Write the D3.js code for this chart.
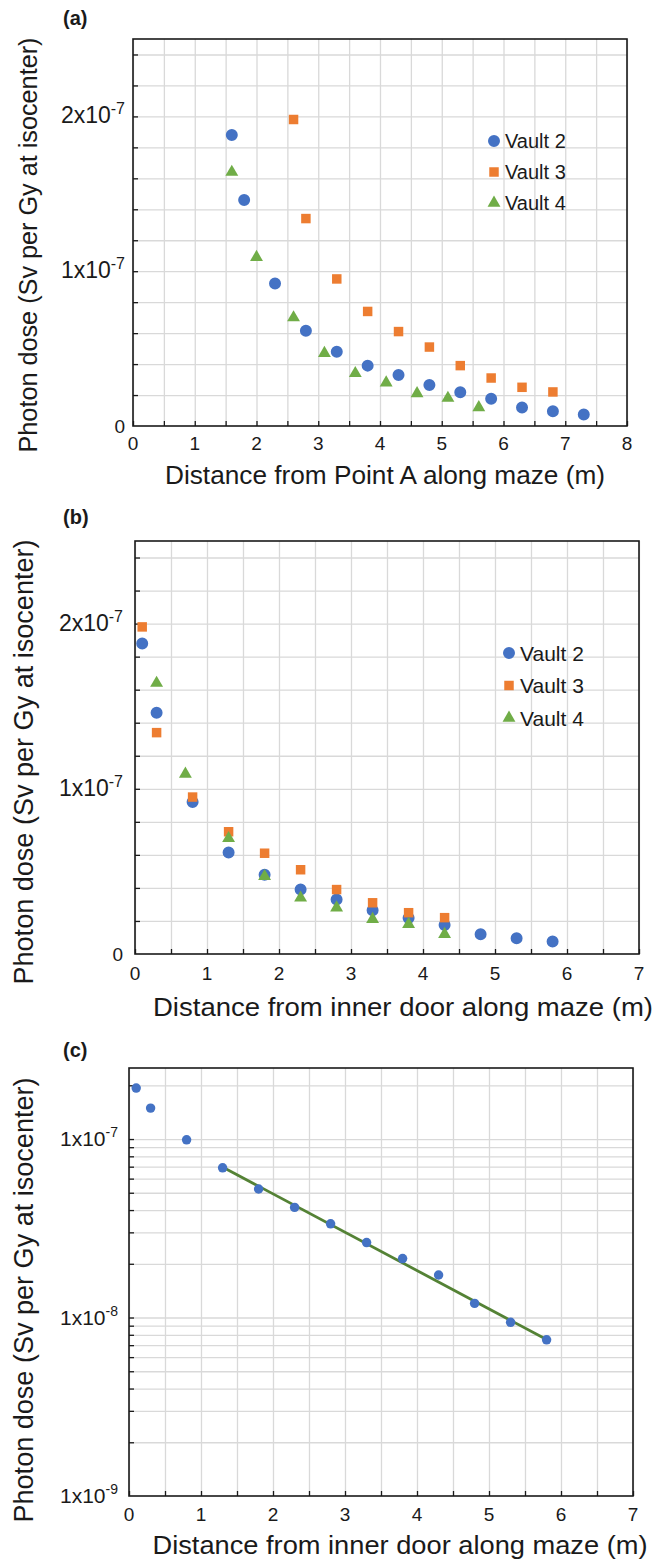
<!DOCTYPE html>
<html>
<head>
<meta charset="utf-8">
<script src="https://cdn.jsdelivr.net/npm/d3@7"></script>
<style>
  body { margin: 0; background: #fff; }
  text { font-family: "Liberation Sans", Arial, sans-serif; fill: #1a1a1a; }
</style>
</head>
<body>
<script>
// distances (m) and photon dose (x1e-7 Sv per Gy at isocenter)
var vault2DistA    = [1.6, 1.8, 2.3, 2.8, 3.3, 3.8, 4.3, 4.8, 5.3, 5.8, 6.3, 6.8, 7.3];
var vault2DistDoor = [0.1, 0.3, 0.8, 1.3, 1.8, 2.3, 2.8, 3.3, 3.8, 4.3, 4.8, 5.3, 5.8];
var vault2Dose     = [1.88, 1.46, 0.92, 0.615, 0.48, 0.39, 0.33, 0.265, 0.218, 0.176, 0.12, 0.095, 0.075];
// vault 2 as plotted on the log panel (c)
var vault2DoseLog  = [1.93, 1.49, 0.99, 0.69, 0.525, 0.414, 0.335, 0.263, 0.214, 0.173, 0.12, 0.094, 0.075];

var vault3DistA    = [2.6, 2.8, 3.3, 3.8, 4.3, 4.8, 5.3, 5.8, 6.3, 6.8];
var vault3DistDoor = [0.1, 0.3, 0.8, 1.3, 1.8, 2.3, 2.8, 3.3, 3.8, 4.3];
var vault3Dose     = [1.98, 1.34, 0.95, 0.74, 0.61, 0.51, 0.39, 0.31, 0.25, 0.22];

var vault4DistA    = [1.6, 2.0, 2.6, 3.1, 3.6, 4.1, 4.6, 5.1, 5.6];
var vault4DistDoor = [0.3, 0.7, 1.3, 1.8, 2.3, 2.8, 3.3, 3.8, 4.3];
var vault4Dose     = [1.64, 1.09, 0.70, 0.47, 0.34, 0.28, 0.21, 0.18, 0.12];

// exponential fit drawn in panel (c): end points
var fitDist = [1.35, 5.78];
var fitDose = [0.68, 0.076];

var seriesNames = ["Vault 2", "Vault 3", "Vault 4"];
var linTicks = [0, 1e-7, 2e-7];
var logTicks = [1e-9, 1e-8, 1e-7];

var W = 660, H = 1564;
var colors = { "Vault 2": "#4472C4", "Vault 3": "#ED7D31", "Vault 4": "#70AD47" };
var shapes = { "Vault 2": d3.symbolCircle, "Vault 3": d3.symbolSquare, "Vault 4": d3.symbolTriangle };
var symSize = { "Vault 2": 113, "Vault 3": 90, "Vault 4": 72 };

function pairs (xs, ys) {
    return xs.map(function (d, i) { return { x: d, y: ys[i] * 1e-7 }; });
}

var panels = [
    { label: "(a)", labelY: 18, left: 133, right: 627, top: 39, bottom: 426, xMax: 8, log: false,
      yTickEnd: 125, yTickSize: 23, xLabelY: 443, mark: 1,
      xTitle: "Distance from Point A along maze (m)", xTitleX: 385, xTitleY: 475, xTitleLen: 440, xTitleSize: 25,
      yTitleX: 37, yTitleY: 245, yTitleLen: 415, yTitleSize: 26,
      legend: { x: 494, y: 141, dy: 31, size: 20 },
      series: [pairs(vault2DistA, vault2Dose), pairs(vault3DistA, vault3Dose), pairs(vault4DistA, vault4Dose)] },
    { label: "(b)", labelY: 517, left: 135, right: 639, top: 541, bottom: 954, xMax: 7, log: false,
      yTickEnd: 123, yTickSize: 23, xLabelY: 973, mark: 1,
      xTitle: "Distance from inner door along maze (m)", xTitleX: 403, xTitleY: 1007, xTitleLen: 500, xTitleSize: 26,
      yTitleX: 33, yTitleY: 762, yTitleLen: 445, yTitleSize: 27,
      legend: { x: 509, y: 653, dy: 32.5, size: 21 },
      series: [pairs(vault2DistDoor, vault2Dose), pairs(vault3DistDoor, vault3Dose), pairs(vault4DistDoor, vault4Dose)] },
    { label: "(c)", labelY: 1050, left: 129, right: 633, top: 1068, bottom: 1496, xMax: 7, log: true,
      yTickEnd: 118, yTickSize: 21, xLabelY: 1514, mark: 0.62,
      xTitle: "Distance from inner door along maze (m)", xTitleX: 400, xTitleY: 1545, xTitleLen: 495, xTitleSize: 26,
      yTitleX: 33, yTitleY: 1300, yTitleLen: 445, yTitleSize: 27,
      legend: null,
      series: [pairs(vault2DistDoor, vault2DoseLog)],
      fit: pairs(fitDist, fitDose) }
];

var svg = d3.select("body").append("svg")
    .attr("width", W).attr("height", H);
svg.append("rect").attr("width", W).attr("height", H).attr("fill", "#fff");

function tickLabel (sel, v, supSize) {
    if (v === 0) { sel.attr("font-size", 19).text("0"); return; }
    var e = Math.floor(Math.log10(v) + 1e-9),
        m = Math.round(v / Math.pow(10, e));
    sel.append("tspan").text(m + "x10");
    sel.append("tspan").attr("font-size", supSize).attr("dy", -9).text("-" + (-e));
}

function styleLines (color) {
    return function (a) {
        a.select(".domain").remove();
        a.selectAll("line").attr("stroke", color).attr("stroke-width", 1.3);
    };
}

function drawPanel (p) {
    var g = svg.append("g"),
        h = p.bottom - p.top,
        x = d3.scaleLinear().domain([0, p.xMax]).range([p.left, p.right]),
        y = p.log ? d3.scaleLog().domain([1e-9, 2.5e-7]).range([p.bottom, p.top])
                  : d3.scaleLinear().domain([0, 2.5e-7]).range([p.bottom, p.top]),
        halfSteps = d3.range(0, p.xMax * 2 + 1).map(function (i) { return i / 2; }),
        yGrid = (p.log ? y.ticks() : d3.range(0, 13).map(function (i) { return i * 0.2e-7; }))
            .filter(function (v) { return y(v) > p.top + 1 && y(v) < p.bottom - 1; });

    // grid
    g.append("g")
        .attr("transform", "translate(0," + p.bottom + ")")
        .call(d3.axisBottom(x).tickValues(halfSteps).tickSize(-h).tickFormat(""))
        .call(styleLines("#d9d9d9"));
    g.append("g")
        .attr("transform", "translate(" + p.left + ",0)")
        .call(d3.axisLeft(y).tickValues(yGrid).tickSize(-(p.right - p.left)).tickFormat(""))
        .call(styleLines("#d9d9d9"));

    // inward tick marks
    g.append("g")
        .attr("transform", "translate(0," + p.bottom + ")")
        .call(d3.axisBottom(x).tickValues(halfSteps).tickSize(-5).tickFormat(""))
        .call(styleLines("#1a1a1a"));
    g.append("g")
        .attr("transform", "translate(" + p.left + ",0)")
        .call(d3.axisLeft(y).tickValues(yGrid).tickSize(-5).tickFormat(""))
        .call(styleLines("#1a1a1a"));

    // frame
    g.append("rect")
        .attr("x", p.left).attr("y", p.top)
        .attr("width", p.right - p.left).attr("height", h)
        .attr("fill", "none").attr("stroke", "#1a1a1a").attr("stroke-width", 1.6);

    // x tick labels
    g.selectAll(".xl").data(d3.range(0, p.xMax + 1)).enter()
        .append("text")
        .attr("x", function (d) { return x(d); })
        .attr("y", p.xLabelY)
        .attr("dy", "0.36em")
        .attr("text-anchor", "middle")
        .attr("font-size", 19)
        .text(function (d) { return d; });

    // y tick labels
    g.selectAll(".yl").data(p.log ? logTicks : linTicks).enter()
        .append("text")
        .attr("x", p.yTickEnd)
        .attr("y", function (d) { return y(d) + 7; })
        .attr("text-anchor", "end")
        .attr("font-size", p.yTickSize)
        .each(function (d) { tickLabel(d3.select(this), d, p.yTickSize - 7); });

    // fit line
    if (p.fit) {
        g.append("path")
            .datum(p.fit)
            .attr("fill", "none")
            .attr("stroke", "#548235")
            .attr("stroke-width", 2.8)
            .attr("d", d3.line().x(function (d) { return x(d.x); }).y(function (d) { return y(d.y); }));
    }

    // markers
    p.series.forEach(function (s, i) {
        var name = seriesNames[i];
        g.selectAll(".m" + i).data(s).enter()
            .append("path")
            .attr("transform", function (d) { return "translate(" + x(d.x) + "," + y(d.y) + ")"; })
            .attr("d", d3.symbol().type(shapes[name]).size(symSize[name] * p.mark))
            .attr("fill", colors[name]);
    });

    // legend
    if (p.legend) {
        seriesNames.forEach(function (name, i) {
            var ly = p.legend.y + i * p.legend.dy;
            g.append("path")
                .attr("transform", "translate(" + p.legend.x + "," + ly + ")")
                .attr("d", d3.symbol().type(shapes[name]).size(symSize[name]))
                .attr("fill", colors[name]);
            g.append("text")
                .attr("x", p.legend.x + 11)
                .attr("y", ly)
                .attr("dy", "0.36em")
                .attr("font-size", p.legend.size)
                .text(name);
        });
    }

    // panel letter
    g.append("text")
        .attr("x", 63).attr("y", p.labelY).attr("dy", "0.36em")
        .attr("font-size", 20).attr("font-weight", "bold")
        .text(p.label);

    // axis titles
    g.append("text")
        .attr("x", p.xTitleX).attr("y", p.xTitleY).attr("dy", "0.36em")
        .attr("text-anchor", "middle")
        .attr("font-size", p.xTitleSize)
        .attr("textLength", p.xTitleLen).attr("lengthAdjust", "spacingAndGlyphs")
        .text(p.xTitle);
    g.append("text")
        .attr("transform", "translate(" + p.yTitleX + "," + p.yTitleY + ") rotate(-90)")
        .attr("text-anchor", "middle")
        .attr("font-size", p.yTitleSize)
        .attr("textLength", p.yTitleLen).attr("lengthAdjust", "spacingAndGlyphs")
        .text("Photon  dose (Sv per Gy at isocenter)");
}

panels.forEach(drawPanel);
</script>
</body>
</html>
